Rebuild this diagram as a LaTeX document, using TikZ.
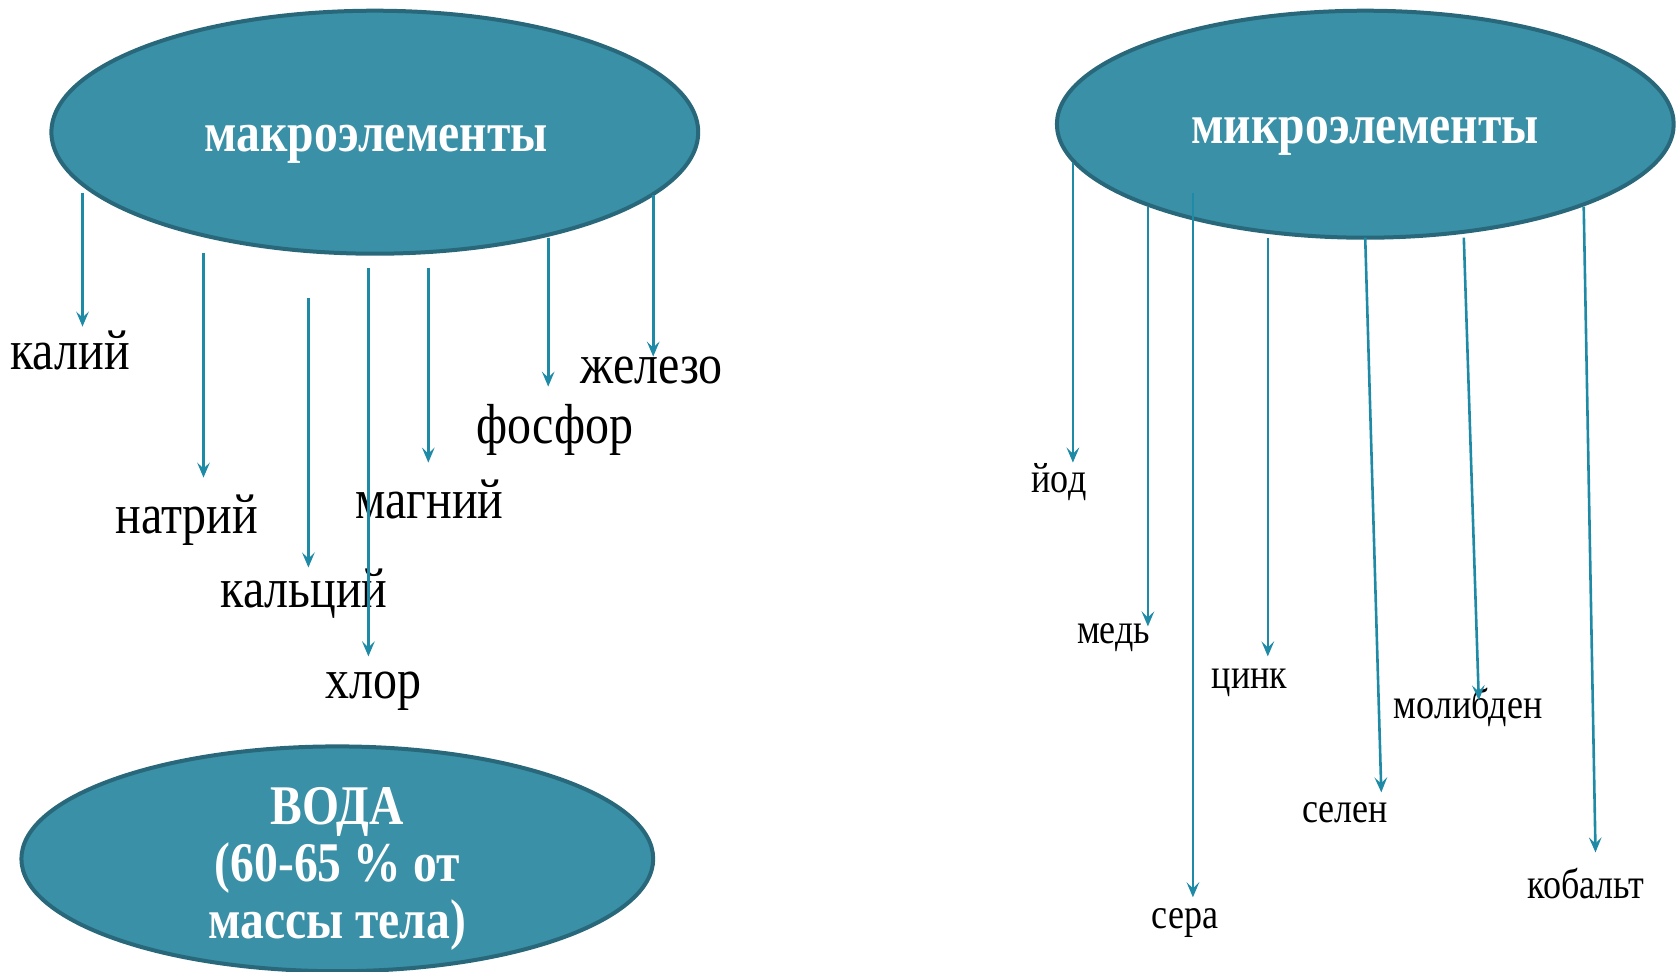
\documentclass[tikz,border=0pt]{standalone}
\usepackage{fontspec}
\setmainfont{Liberation Serif}
\newfontfamily\condserif[FakeStretch=0.85]{Liberation Serif}
\usetikzlibrary{arrows.meta,shapes.geometric}
\definecolor{fillteal}{RGB}{58,144,166}
\definecolor{edgeteal}{RGB}{40,104,122}
\definecolor{arrteal}{RGB}{30,138,166}
\begin{document}
\begin{tikzpicture}[x=0.5pt,y=-0.5pt,
  blob/.style={ellipse, fill=fillteal, draw=edgeteal, line width=2pt, inner sep=0pt},
  bigtitle/.style={inner sep=0pt, text=white, align=center, font=\condserif\bfseries\fontsize{28}{28.4}\selectfont},
  biglab/.style={anchor=base, inner sep=0pt, font=\condserif\fontsize{28.2}{30}\selectfont},
  smalllab/.style={anchor=base, inner sep=0pt, font=\condserif\fontsize{21.2}{24}\selectfont},
  arr/.style={draw=arrteal, line width=1.3pt, -{Stealth[length=7.5pt,width=6.3pt,inset=3pt]}}]
\useasboundingbox (0,0) rectangle (1679,971);
% ellipses
\node[blob, minimum width=323.4pt, minimum height=121.5pt] (macro) at (374.8,132.2) {};
\node[blob, minimum width=308.4pt, minimum height=113.5pt] (micro) at (1365.3,124.2) {};
\node[blob, minimum width=315.9pt, minimum height=112.4pt] (water) at (337.3,858.8) {};
\node[bigtitle, anchor=base] (macrotext) at (376,151) {макроэлементы};
\node[bigtitle, anchor=base] (microtext) at (1365,143) {микроэлементы};
\node[bigtitle] (watertext) at (337.3,869) {ВОДА\\(60-65 \% от\\массы тела)};
% macro labels
\node[biglab] (kaliy) at (70.1,369) {калий};
\node[biglab] (natriy) at (186.9,533) {натрий};
\node[biglab] (kalciy) at (304.1,607) {кальций};
\node[biglab] (hlor) at (373.2,698) {хлор};
\node[biglab] (magniy) at (429.4,518) {магний};
\node[biglab] (fosfor) at (554.7,443) {фосфор};
\node[biglab] (zhelezo) at (651.6,383) {железо};
% micro labels
\node[smalllab] (yod) at (1059,492) {йод};
\node[smalllab] (med) at (1113.6,643) {медь};
\node[smalllab] (cink) at (1249.6,688) {цинк};
\node[smalllab] (molibden) at (1468.1,718) {молибден};
\node[smalllab] (selen) at (1344.9,822) {селен};
\node[smalllab] (sera) at (1184.8,928) {сера};
\node[smalllab] (kobalt) at (1585.9,898) {кобальт};
% arrow coordinates
\coordinate (s1) at (82.5,192.7);   \coordinate (e1) at (82.5,326.6);
\coordinate (s2) at (203.5,252.7);  \coordinate (e2) at (203.5,477.6);
\coordinate (s3) at (308.4,297.7);  \coordinate (e3) at (308.4,567.5);
\coordinate (s4) at (368.4,267.7);  \coordinate (e4) at (368.4,656.4);
\coordinate (s5) at (428.3,267.7);  \coordinate (e5) at (428.3,462.6);
\coordinate (s6) at (548.2,237.7);  \coordinate (e6) at (548.2,386.6);
\coordinate (s7) at (653.2,194.9);  \coordinate (e7) at (653.2,356.6);
\coordinate (m1) at (1072.9,162.8); \coordinate (f1) at (1072.9,462.6);
\coordinate (m2) at (1147.9,206.7); \coordinate (f2) at (1147.9,626.4);
\coordinate (m3) at (1192.9,192.7); \coordinate (f3) at (1192.9,897.3);
\coordinate (m4) at (1267.8,237.7); \coordinate (f4) at (1267.8,656.4);
\coordinate (m5) at (1365.2,237.7); \coordinate (f5) at (1381.3,792.4);
\coordinate (m6) at (1463.8,237.7); \coordinate (f6) at (1478.8,700.3);
\coordinate (m7) at (1583.7,206.7); \coordinate (f7) at (1595.5,852.4);
% arrows
\foreach \a/\b in {s1/e1,s2/e2,s3/e3,s4/e4,s5/e5,s6/e6,s7/e7,m1/f1,m2/f2,m3/f3,m4/f4,m5/f5,m6/f6,m7/f7}
  \draw[arr] (\a) -- (\b);
\end{tikzpicture}
\end{document}
